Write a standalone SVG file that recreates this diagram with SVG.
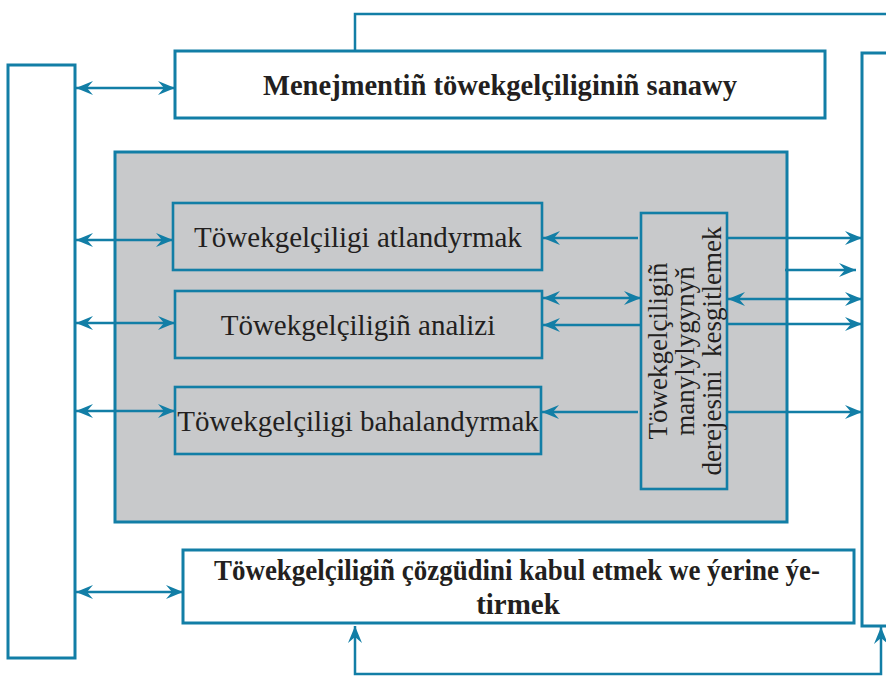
<svg xmlns="http://www.w3.org/2000/svg" width="886" height="687" viewBox="0 0 886 687">
<style>
.box{fill:#fff;stroke:#127ea6;stroke-width:3}
.gray{fill:#c8c9cb;stroke:#127ea6;stroke-width:3}
.in{fill:#c8c9cb;stroke:#127ea6;stroke-width:2.6}
.ln{fill:none;stroke:#127ea6;stroke-width:2.5}
.one{marker-end:url(#ah)}
.two{marker-start:url(#ah);marker-end:url(#ah)}
.tb{font-family:"Liberation Serif","Times New Roman",serif;font-weight:bold;fill:#231f20;text-anchor:middle}
.tr{font-family:"Liberation Serif","Times New Roman",serif;fill:#231f20;text-anchor:middle}
</style>
<defs>
<marker id="ah" viewBox="0 0 17 14" refX="17" refY="7" markerWidth="17" markerHeight="14" markerUnits="userSpaceOnUse" orient="auto-start-reverse">
<path d="M0,0 L17,7 L0,14 L6,7 z" fill="#127ea6"/>
</marker>
</defs>
<rect width="886" height="687" fill="#fff"/>

<g id="left-box"><rect class="box" x="8" y="65" width="67" height="593"/></g>
<g id="right-box"><rect class="box" x="862" y="53" width="40" height="573"/></g>
<g id="top-box">
<rect class="box" x="175" y="51" width="650" height="67"/>
<text class="tb" x="500" y="95" font-size="29" textLength="474" lengthAdjust="spacingAndGlyphs">Menejmentiñ töwekgelçiliginiñ sanawy</text>
</g>
<g id="gray-area"><rect class="gray" x="115" y="152" width="672" height="370"/></g>
<g id="box-atlandyrmak">
<rect class="in" x="173" y="203" width="369" height="67"/>
<text class="tr" x="358" y="247" font-size="29">Töwekgelçiligi atlandyrmak</text>
</g>
<g id="box-analizi">
<rect class="in" x="175" y="291" width="367" height="67"/>
<text class="tr" x="358" y="335" font-size="29">Töwekgelçiligiñ analizi</text>
</g>
<g id="box-bahalandyrmak">
<rect class="in" x="175" y="387" width="366" height="67"/>
<text class="tr" x="358" y="431" font-size="29">Töwekgelçiligi bahalandyrmak</text>
</g>
<g id="box-derejesi">
<rect class="in" x="641" y="213" width="86" height="276"/>
<g transform="translate(0,351) rotate(-90)">
<text class="tr" x="0" y="667" font-size="27">Töwekgelçiligiñ</text>
<text class="tr" x="0" y="694" font-size="27">manylylygynyň</text>
<text class="tr" x="0" y="721" font-size="27" xml:space="preserve">derejesini  kesgitlemek</text>
</g>
</g>
<g id="bottom-box">
<rect class="box" x="183" y="550" width="671" height="73"/>
<text class="tb" x="517" y="580" font-size="29" textLength="606" lengthAdjust="spacingAndGlyphs">Töwekgelçiligiñ çözgüdini kabul etmek we ýerine ýe-</text>
<text class="tb" x="518" y="614" font-size="29">tirmek</text>
</g>

<g id="connectors">
<path class="ln" d="M355,50 V14 H890"/>
<path class="ln two" d="M355,626 V674 H881 V627"/>
<path class="ln two" d="M76,88 H175"/>
<path class="ln two" d="M76,240 H173"/>
<path class="ln two" d="M76,323 H175"/>
<path class="ln two" d="M76,411 H175"/>
<path class="ln two" d="M76,592 H183"/>
<path class="ln one" d="M638,238 H543"/>
<path class="ln two" d="M543,298 H641"/>
<path class="ln one" d="M640,325 H543"/>
<path class="ln one" d="M638,412 H542"/>
<path class="ln one" d="M727,238 H862"/>
<path class="ln one" d="M785,270 H856"/>
<path class="ln two" d="M728,299 H862"/>
<path class="ln one" d="M727,324 H862"/>
<path class="ln one" d="M727,412 H862"/>
</g>
</svg>
